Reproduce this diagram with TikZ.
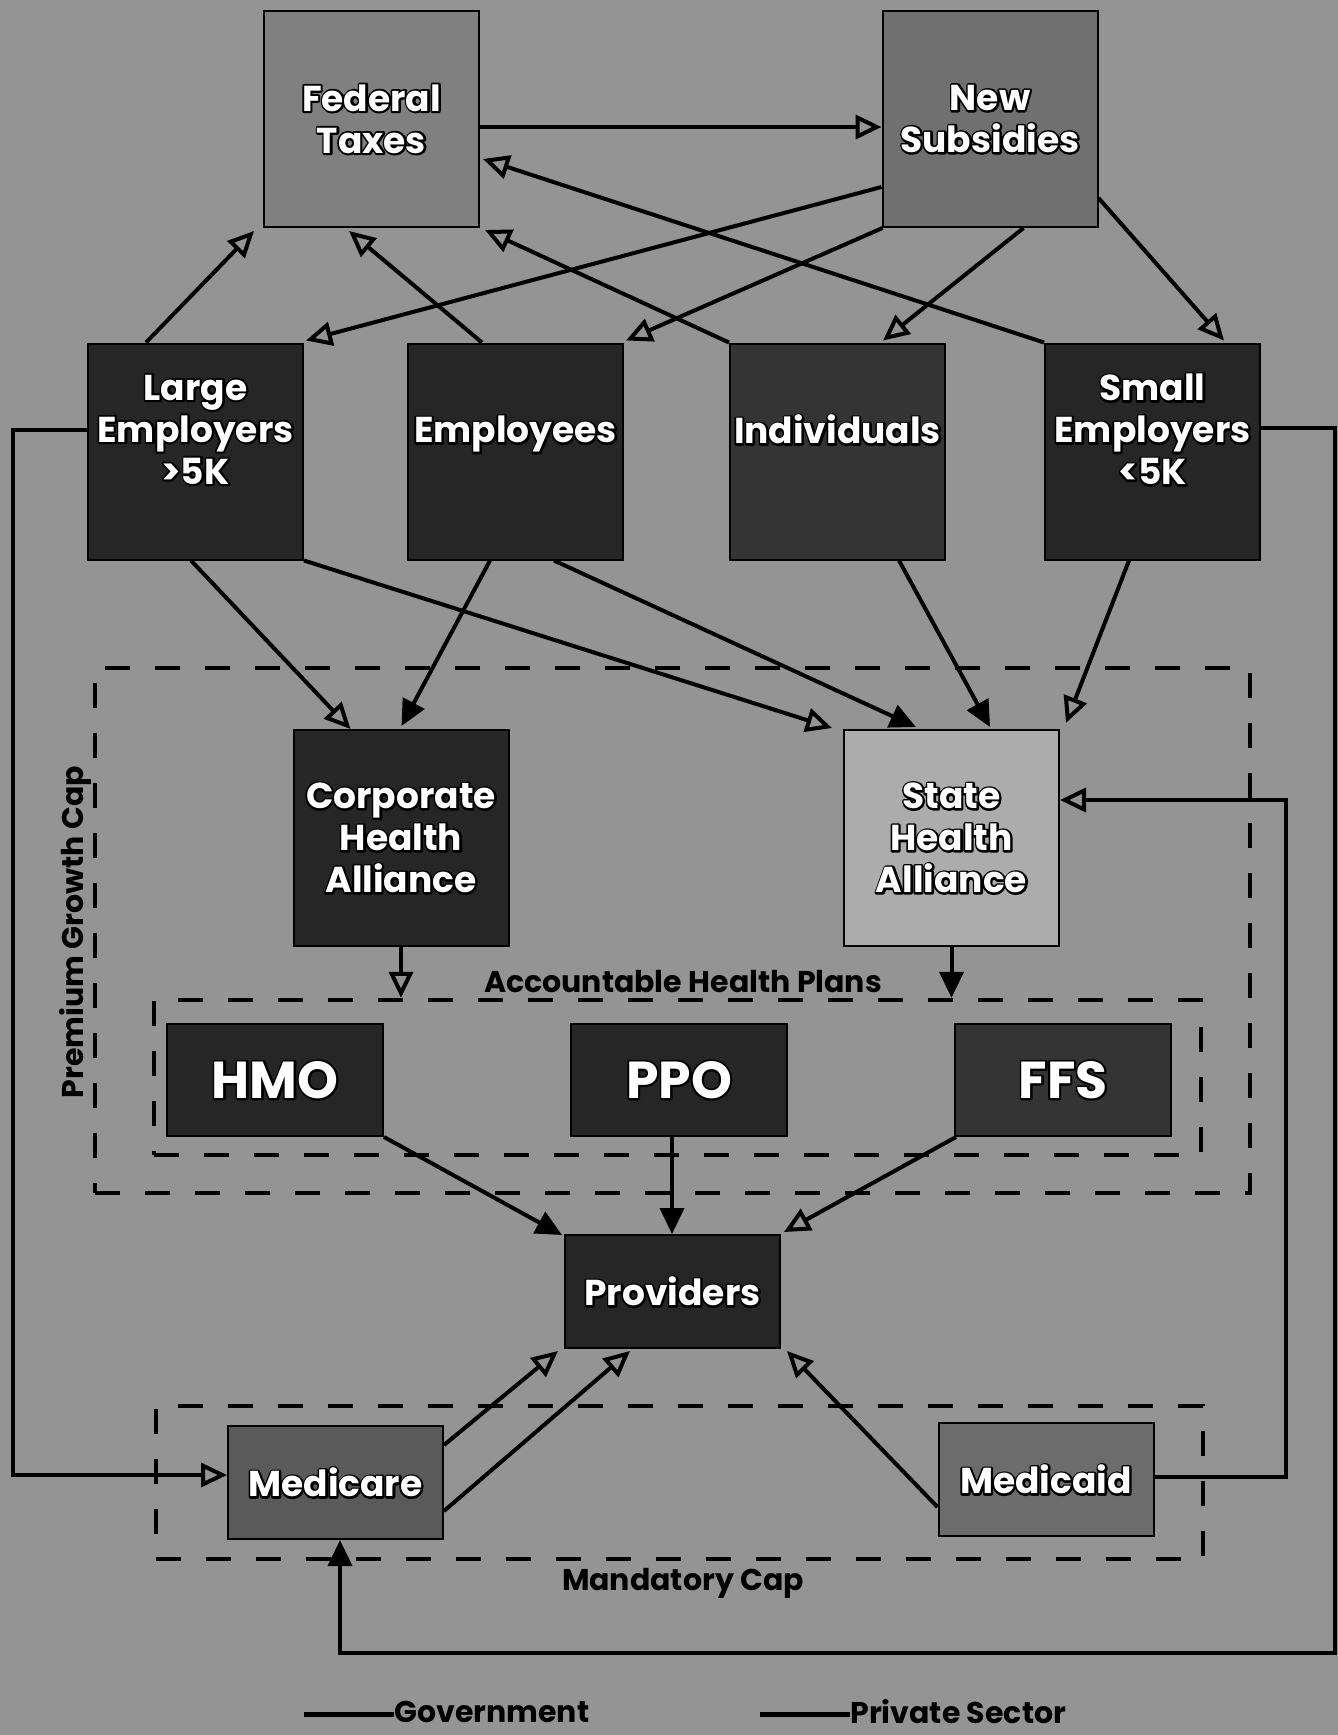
\documentclass[tikz,border=0pt]{standalone}
\usepackage{fontspec}
\setmainfont{Poppins}
\usetikzlibrary{arrows.meta,calc}
\definecolor{bgc}{RGB}{148,148,148}
\definecolor{darkc}{RGB}{38,38,38}
\definecolor{indc}{RGB}{52,52,52}
\definecolor{fedc}{RGB}{128,128,128}
\definecolor{nsc}{RGB}{112,112,112}
\definecolor{shac}{RGB}{172,172,172}
\definecolor{mcarec}{RGB}{90,90,90}
\definecolor{mcaidc}{RGB}{108,108,108}
\newcommand\olt[1]{\leavevmode\rlap{\special{pdf:literal direct 1 Tr 2 w 0 G 1 j}#1\special{pdf:literal direct 0 Tr}}#1}
\begin{document}
\begin{tikzpicture}[x=0.5pt,y=-0.5pt,
  bx/.style={draw=black,line width=1pt,inner sep=0pt,align=center,text=white,
    font=\bfseries\fontsize{18}{21}\selectfont},
  bigbox/.style={minimum width=107.5pt,minimum height=108pt},
  rowbox/.style={bigbox,text depth=22pt},
  lowbox/.style={minimum width=107.5pt,minimum height=56.5pt},
  planbox/.style={minimum width=108pt,minimum height=56pt,font=\bfseries\fontsize{26}{30}\selectfont},
  dbox/.style={draw=black,line width=2.2pt,dash pattern=on 12.5pt off 12.5pt,inner sep=0pt},
  lbl/.style={text=black,inner sep=0pt,font=\bfseries\fontsize{15}{18}\selectfont},
  conn/.style={line width=2pt},
  oa/.style={conn,-{Triangle[open,length=13pt,width=12pt]}},
  fa/.style={conn,-{Triangle[length=13pt,width=12pt]}}]
\fill[bgc] (0,0) rectangle (1338,1735);
\useasboundingbox (0,0) rectangle (1338,1735);

% dashed groupings
\node[dbox,minimum width=577.5pt,minimum height=262.5pt] (pgc) at (672.5,930.5) {};
\node[dbox,minimum width=523.5pt,minimum height=77.5pt] (ahp) at (677.5,1077.5) {};
\node[dbox,minimum width=523.5pt,minimum height=76.5pt] (mcap) at (679.5,1482.5) {};
\node[lbl] (ahpl) at (683,982) {Accountable Health Plans};
\node[lbl,rotate=90] (pgcl) at (75,932) {Premium Growth Cap};
\node[lbl] (mcapl) at (683,1583) {Mandatory Cap};

% boxes
\node[bx,bigbox,fill=fedc] (fed) at (371.5,119) {\olt{Federal}\\\olt{Taxes}};
\node[bx,bigbox,fill=nsc] (ns) at (990,119) {\olt{New}\\\olt{Subsidies}};
\node[bx,rowbox,fill=darkc] (le) at (195.5,451.5) {\olt{Large}\\\olt{Employers}\\\olt{>5K}};
\node[bx,rowbox,fill=darkc] (emp) at (515.5,451.5) {\olt{Employees}};
\node[bx,rowbox,fill=indc] (ind) at (837.5,451.5) {\olt{Individuals}};
\node[bx,rowbox,fill=darkc] (se) at (1152.5,451.5) {\olt{Small}\\\olt{Employers}\\\olt{<5K}};
\node[bx,bigbox,fill=darkc] (cha) at (401,838) {\olt{Corporate}\\\olt{Health}\\\olt{Alliance}};
\node[bx,bigbox,fill=shac] (sha) at (951.5,838) {\olt{State}\\\olt{Health}\\\olt{Alliance}};
\node[bx,planbox,fill=darkc] (hmo) at (275,1080) {\olt{HMO}};
\node[bx,planbox,fill=darkc] (ppo) at (679,1080) {\olt{PPO}};
\node[bx,planbox,fill=indc] (ffs) at (1063,1080) {\olt{FFS}};
\node[bx,lowbox,fill=darkc] (prov) at (672.5,1291.5) {\olt{Providers}};
\node[bx,lowbox,fill=mcarec] (mcare) at (335.5,1482.5) {\olt{Medicare}};
\node[bx,lowbox,fill=mcaidc] (mcaid) at (1046,1479.5) {\olt{Medicaid}};

% top level flows
\draw[oa] ($(fed.north east)+(0,117)$) -- ($(ns.north west)+(0,117)$);
\draw[oa] ($(le.north west)+(59,0)$) -- ($(fed.south west)+(-9,3)$);
\draw[oa] ($(emp.north west)+(75,0)$) -- ($(fed.south west)+(86,3)$);
\draw[oa] (ind.north west) -- ($(fed.south east)+(5,2)$);
\draw[oa] (se.north west) -- ($(fed.north east)+(3,149)$);
\draw[oa] ($(ns.north west)+(0,177)$) -- ($(le.north east)+(2,-2)$);
\draw[oa] ($(ns.south west)+(1,0)$) -- ($(emp.north east)+(2,-2)$);
\draw[oa] ($(ns.south west)+(142,0)$) -- ($(ind.north west)+(154,-2)$);
\draw[oa] ($(ns.north east)+(0,188)$) -- ($(se.north west)+(180,-2)$);

% to alliances
\draw[oa] ($(le.south west)+(104,0)$) -- ($(cha.north west)+(58,0)$);
\draw[oa] (le.south east) -- ($(sha.north west)+(-11,-1)$);
\draw[fa] ($(emp.south west)+(83,0)$) -- ($(cha.north west)+(109,-3)$);
\draw[fa] ($(emp.south west)+(147,0)$) -- ($(sha.north west)+(73,-2)$);
\draw[fa] ($(ind.south west)+(170,0)$) -- ($(sha.north west)+(147,-2)$);
\draw[oa] ($(se.south west)+(85,0)$) -- ($(sha.north east)+(6,-6)$);

% to plans and providers
\draw[oa] (cha.south) -- (cha.south |- ahp.north);
\draw[fa] (sha.south) -- (sha.south |- ahp.north);
\draw[fa] (hmo.south east) -- ($(prov.north west)+(-2,1)$);
\draw[fa] ($(ppo.south west)+(102,0)$) -- ($(prov.north west)+(108,0)$);
\draw[oa] ($(ffs.south west)+(2,0)$) -- ($(prov.north east)+(3,-2)$);
\draw[oa] ($(mcare.north east)+(0,20)$) -- ($(prov.south west)+(-6,2)$);
\draw[oa] ($(mcare.north east)+(0,86)$) -- ($(prov.south west)+(66,2)$);
\draw[oa] ($(mcaid.north west)+(0,85)$) -- ($(prov.south east)+(6,2)$);

% loops
\coordinate (lx) at (13,0);
\coordinate (rx) at (1335,0);
\coordinate (bot) at (0,1653);
\coordinate (mx) at (1286,0);
\coordinate (la) at ($(le.north west)+(0,87)$);
\coordinate (lb) at ($(mcare.north west)+(0,50)$);
\draw[oa] (la) -- (la -| lx) -- (lx |- lb) -- (lb);
\coordinate (ra) at ($(se.north east)+(0,85)$);
\coordinate (rb) at ($(mcare.south west)+(113,0)$);
\draw[fa] (ra) -- (ra -| rx) -- (rx |- bot) -- (rb |- bot) -- (rb);
\coordinate (ma) at ($(mcaid.north east)+(0,55)$);
\coordinate (mb) at ($(sha.north east)+(0,71)$);
\draw[oa] (ma) -- (ma -| mx) -- (mx |- mb) -- (mb);

% legend
\node[lbl,anchor=west] (gov) at (394,1712) {Government};
\node[lbl,anchor=west] (priv) at (850,1712) {Private Sector};
\coordinate (gova) at ($(gov.west)+(-90,2)$);
\coordinate (priva) at ($(priv.west)+(-90,2)$);
\draw[line width=2.5pt] (gova) -- ($(gov.west)+(0,2)$);
\draw[line width=2.5pt] (priva) -- ($(priv.west)+(0,2)$);
\end{tikzpicture}
\end{document}
